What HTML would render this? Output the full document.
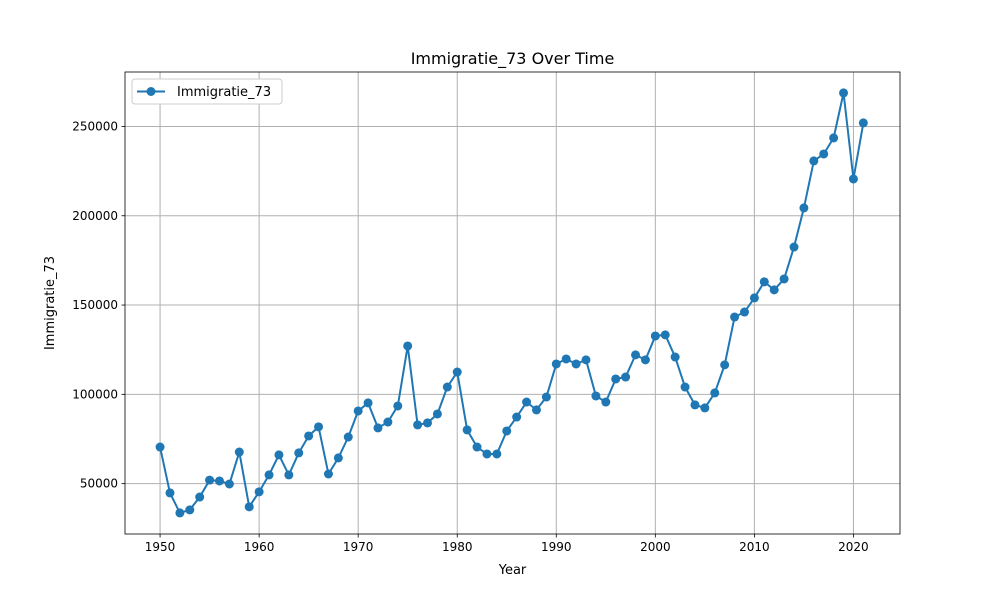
<!DOCTYPE html>
<html><head><meta charset="utf-8"><style>
body{margin:0;background:#fff;font-family:"Liberation Sans","DejaVu Sans",sans-serif}
svg text{font-family:"DejaVu Sans","Liberation Sans",sans-serif}
</style></head><body>
<svg id="chart" width="1000" height="600"></svg>
<script>
const years = [];
for (let y = 1950; y <= 2021; y++) years.push(y);
const values = [70500,44800,33600,35300,42500,52000,51500,49800,67700,37000,
45400,54900,66100,54900,67200,76700,81800,55400,64400,76100,
90700,95200,81200,84500,93500,127100,82900,84000,89000,104100,
112500,80100,70500,66600,66600,79500,87300,95700,91300,98500,
117000,119800,117000,119300,99100,95700,108600,109700,122100,119300,
132700,133300,120900,104100,94100,92400,100800,116500,143300,146100,
154000,163000,158500,164600,182500,204400,230700,234600,243600,268800,
220600,252000];
const xTicks = [1950,1960,1970,1980,1990,2000,2010,2020];
const yTicks = [50000,100000,150000,200000,250000];

const L=125,R=900,T=72,B=534;
const xMin=1946.46,xMax=2024.7,yMin=21800,yMax=280500;
const sx=v=>L+(v-xMin)/(xMax-xMin)*(R-L);
const sy=v=>B-(v-yMin)/(yMax-yMin)*(B-T);
const svg=document.getElementById('chart');
const NS='http://www.w3.org/2000/svg';
function mk(tag,attrs,parent){const e=document.createElementNS(NS,tag);for(const k in attrs)e.setAttribute(k,attrs[k]);(parent||svg).appendChild(e);return e;}

const grid=mk('g',{});


xTicks.forEach(t=>{
  mk('line',{x1:sx(t),x2:sx(t),y1:T,y2:B,stroke:'#b0b0b0','stroke-width':1},grid);
  mk('line',{x1:sx(t),x2:sx(t),y1:B,y2:B+3.5,stroke:'#000','stroke-width':0.8});
  const tx=mk('text',{x:sx(t),y:B+17,'text-anchor':'middle','font-size':12});
  tx.textContent=t;
  
  
});
yTicks.forEach(t=>{
  mk('line',{x1:L,x2:R,y1:sy(t),y2:sy(t),stroke:'#b0b0b0','stroke-width':1},grid);
  mk('line',{x1:L-3.5,x2:L,y1:sy(t),y2:sy(t),stroke:'#000','stroke-width':0.8});
  const tx=mk('text',{x:L-7,y:sy(t)+4,'text-anchor':'end','font-size':12});
  tx.textContent=t;
  
  
});

const line=mk('polyline',{points:years.map((y,i)=>sx(y)+','+sy(values[i])).join(' '),fill:'none',stroke:'#1f77b4','stroke-width':2});


years.forEach((y,i)=>{
  const c=mk('circle',{cx:sx(y),cy:sy(values[i]),r:4.5,fill:'#1f77b4'});
  
  
});

const frame=mk('rect',{x:L,y:T,width:R-L,height:B-T,fill:'none',stroke:'#000','stroke-width':0.8});



const title=mk('text',{x:(L+R)/2,y:64,'text-anchor':'middle','font-size':16});
title.textContent='Immigratie_73 Over Time';


const xl=mk('text',{x:(L+R)/2,y:574,'text-anchor':'middle','font-size':13});
xl.textContent='Year';


const yl=mk('text',{x:54,y:(T+B)/2,'text-anchor':'middle','font-size':13,transform:'rotate(-90 54 '+((T+B)/2)+')'});
yl.textContent='Immigratie_73';



const lg=mk('g',{});


mk('rect',{x:132,y:79,width:150,height:25,rx:3,fill:'#fff',stroke:'#ccc','stroke-width':1},lg);
mk('line',{x1:137,x2:165,y1:91.5,y2:91.5,stroke:'#1f77b4','stroke-width':2},lg);
mk('circle',{cx:151,cy:91.5,r:4.5,fill:'#1f77b4'},lg);
const lt=mk('text',{x:177,y:96,'font-size':13},lg);
lt.textContent='Immigratie_73';


</script>
</body></html>
